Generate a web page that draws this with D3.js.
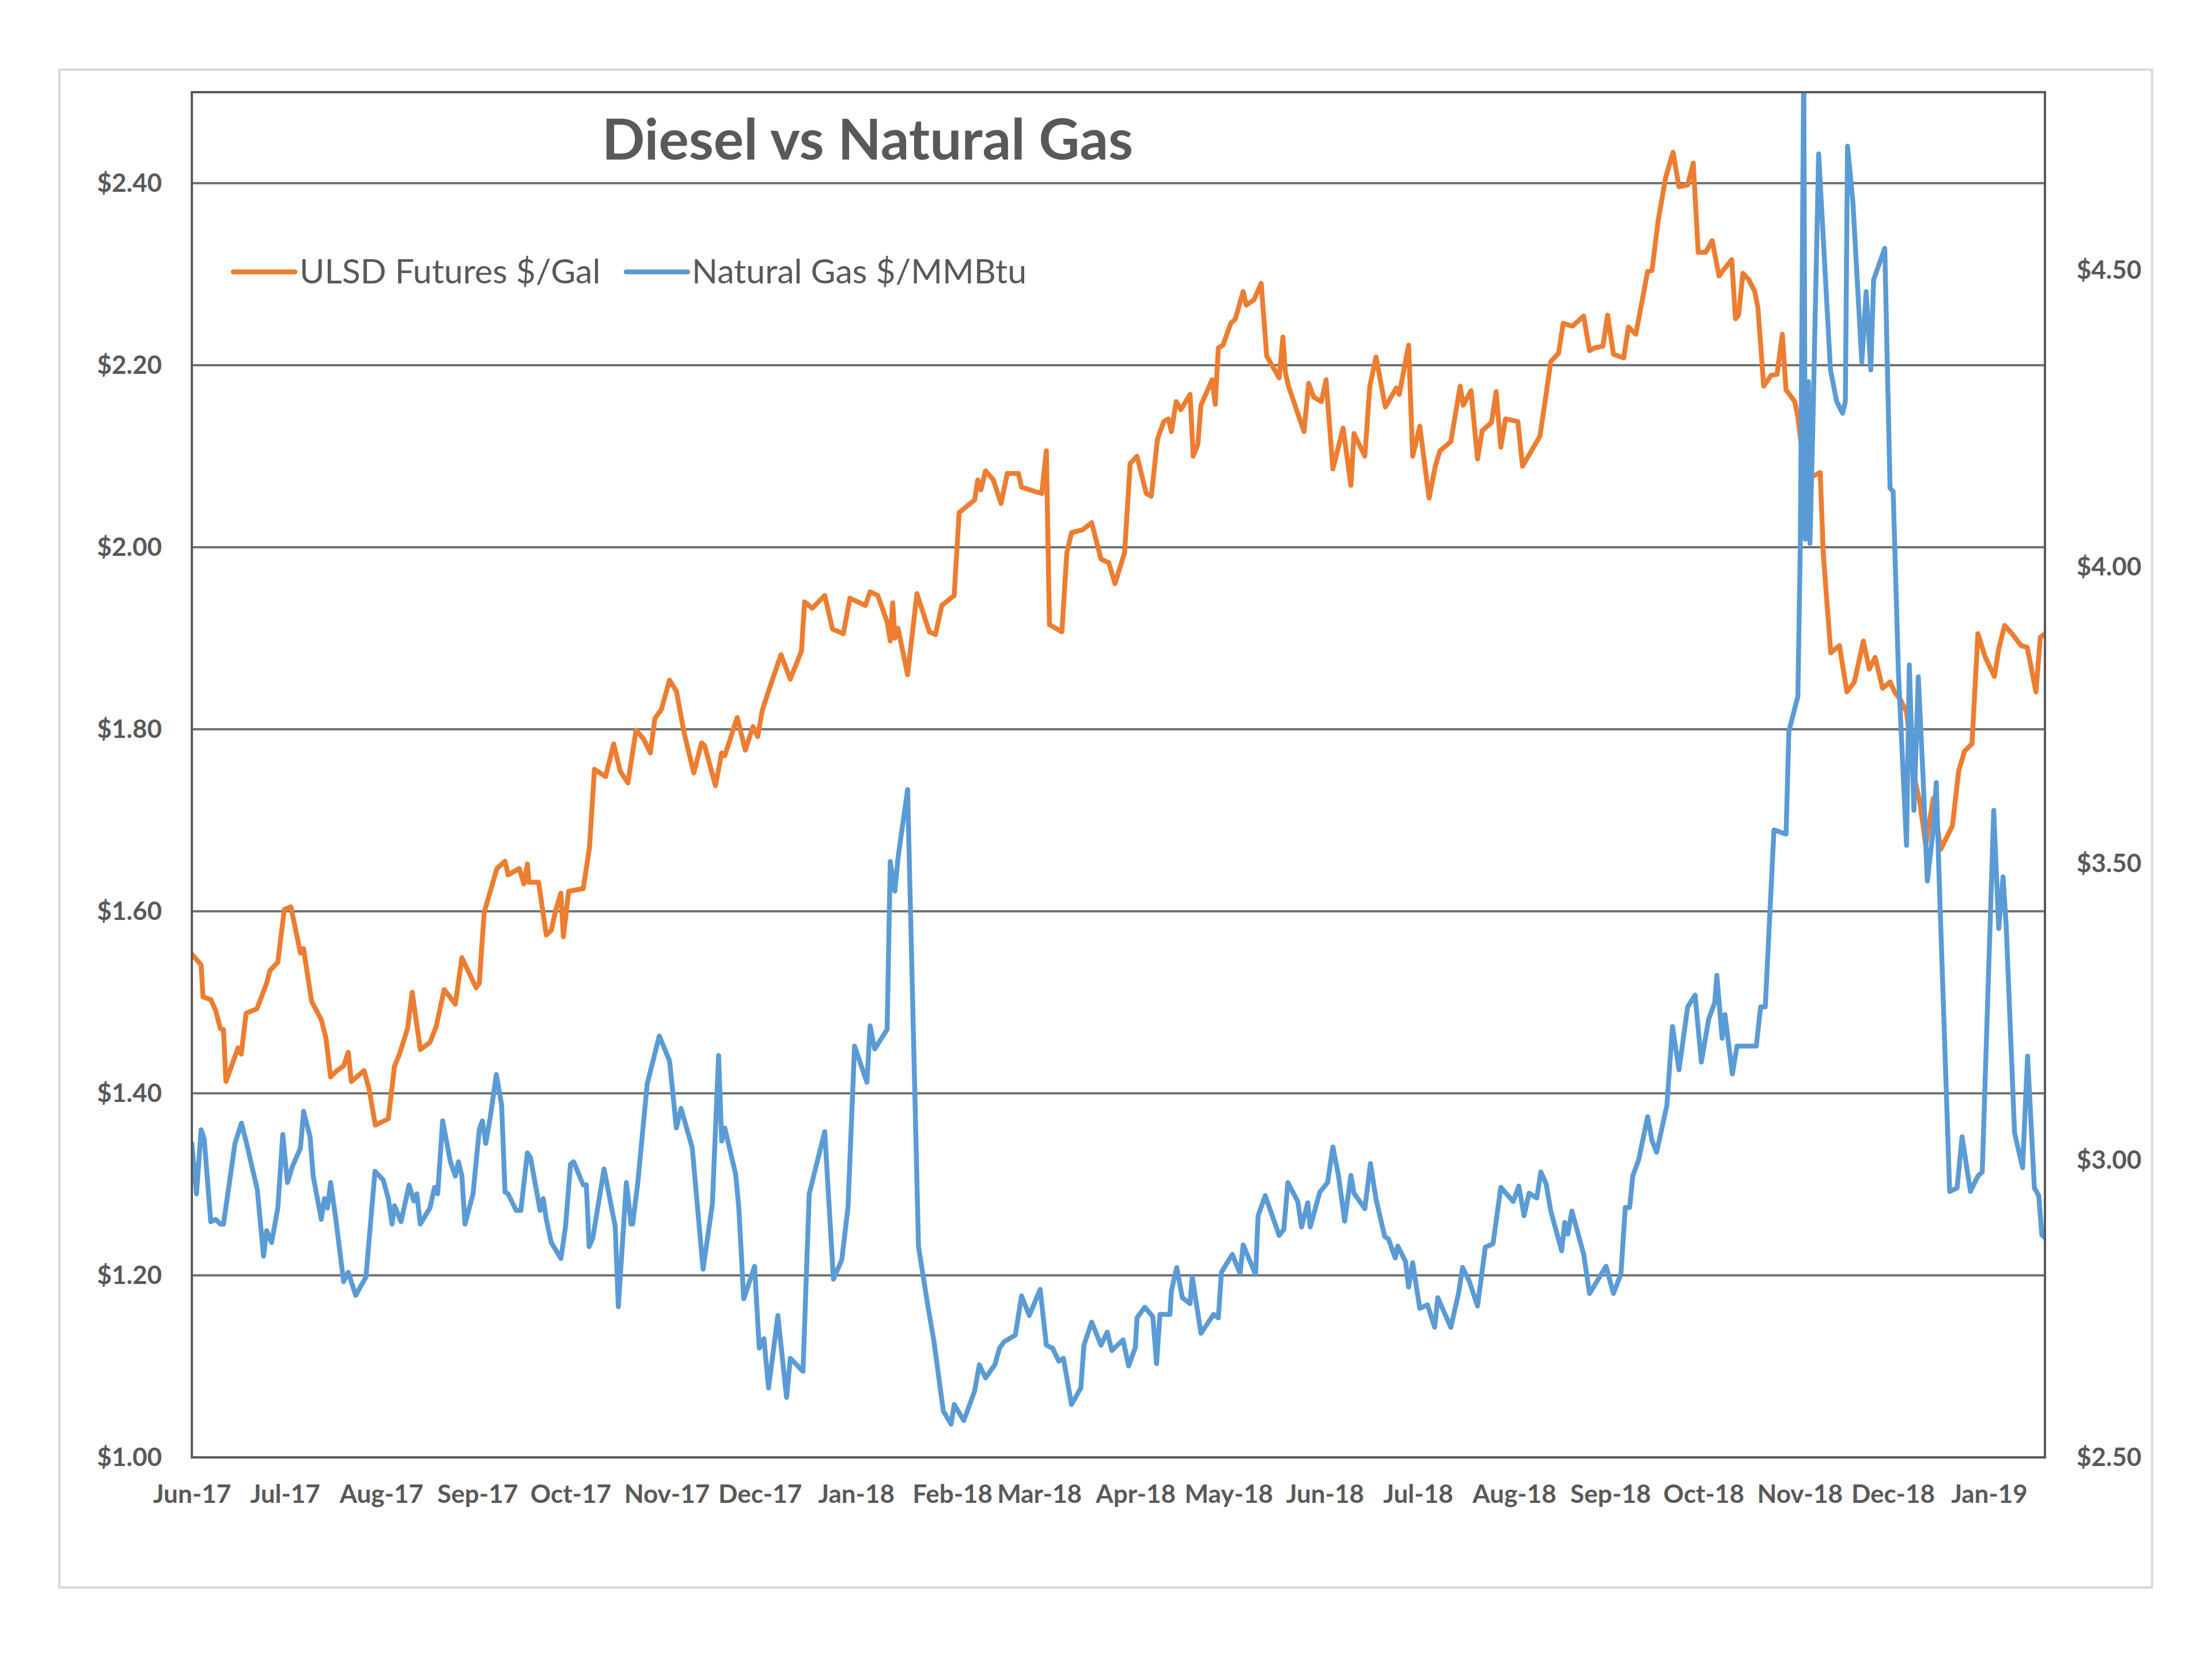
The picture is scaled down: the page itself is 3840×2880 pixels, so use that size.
<!DOCTYPE html>
<html><head><meta charset="utf-8">
<script src="https://cdn.jsdelivr.net/npm/d3@7"></script>
<style>
html,body{margin:0;padding:0;background:#fff;}
svg{display:block;}
text{font-family:Lato,"Open Sans",sans-serif;}
</style></head><body>
<svg id="chart" width="3840" height="2880"></svg>
<script>
// ---------- data ----------
const chartTitle = "Diesel vs Natural Gas";
const seriesNames = ["ULSD Futures $/Gal", "Natural Gas $/MMBtu"];
const seriesColors = ["#ED7D31", "#5B9BD5"];
const startDate = "2017-06-01";
const endDate = "2019-01-19";
const monthTicks = ["2017-06-01","2017-07-01","2017-08-01","2017-09-01","2017-10-01","2017-11-01","2017-12-01",
  "2018-01-01","2018-02-01","2018-03-01","2018-04-01","2018-05-01","2018-06-01","2018-07-01","2018-08-01",
  "2018-09-01","2018-10-01","2018-11-01","2018-12-01","2019-01-01"];
const leftTicks = [1.0, 1.2, 1.4, 1.6, 1.8, 2.0, 2.2, 2.4];
const rightTicks = [2.5, 3.0, 3.5, 4.0, 4.5];
const leftDomain = [1.0, 2.5];
const rightDomain = [2.5, 4.8];

// ULSD futures ($/gal): days after start date, price
const ulsdDays = [0,3,3.6,6.1,7.7,9.2,10.2,11,14.9,15.9,17.5,21,24.1,25.2,27.7,29.8,31.9,35,36,38.6,41.7,43.2,44.7,46.8,48.9,50.4,51.4,55.5,57.1,59.1,63.3,65.3,66.9,69.5,71,73.6,76.7,78.7,81.3,84.9,87,91.6,92.6,94.2,98.3,100.9,101.9,105.5,107,108.1,108.6,111.7,114.2,115.8,117.3,118.9,119.7,121.4,126.1,128.1,129.7,133.3,135.9,138,140.5,143.1,145.6,147.7,149.2,151.3,153.9,156.1,158.6,161.7,164.2,165.2,168.7,170.7,171.7,175.7,178.3,180.8,182.3,183.8,185.8,189.8,192.8,196.4,197.4,199.9,203.9,206.4,209.9,212,217,218.5,221,224,225,225.8,226.5,227.5,230.6,233.6,237.6,239.6,241.6,245.6,247.2,252.2,253.2,254.2,255.7,258.2,260.7,262.7,266.3,267.3,273.8,275.3,276.3,280.3,281.9,283.4,286.9,289.9,292.9,295.4,297.4,300.5,302.3,304.5,307.5,309.1,311.1,313.1,314.6,315.6,317.1,318.6,321.6,322.6,324.1,325.1,328.7,329.7,330.7,332.2,334.7,336.2,338.7,339.7,342.2,344.5,346.3,349.3,350.3,351.5,352.3,353.3,358.3,359.8,361.4,363.9,365.4,367.6,370.9,373.4,374.4,377.9,379.5,381.5,384.5,388,389,392,393.3,395.6,398.6,400.6,402.1,405.6,408.6,409.6,412.1,414.2,415.7,418.7,420.2,421.7,423.2,427.2,428.7,434.3,436.3,437.8,440.3,441.8,444.8,448.4,450.3,451.9,454.6,456.1,458,461.3,462.8,465.2,469,470.4,472.4,474.8,477.2,479.1,481.9,483.7,485.3,487.7,489.8,492,493.5,496.1,497.3,498.3,499.7,501.6,503.5,504.5,506.4,508.8,510.7,512.4,513.6,516.4,517.4,519.8,522.2,524.6,525.6,528,530.8,533.2,535.6,538.5,540.4,542.3,544.7,547.1,548.6,550.5,552.4,555.3,556.7,558.6,561,563.4,567.2,569.2,571.1,573.5,575.4,577.8,580.7,582.1,584,586.4,589.3,591.3,594.1,595.5,597];
const ulsdPrice = [1.553,1.541,1.506,1.503,1.491,1.471,1.470,1.413,1.450,1.443,1.488,1.493,1.521,1.535,1.544,1.602,1.605,1.554,1.559,1.501,1.481,1.461,1.418,1.425,1.430,1.445,1.413,1.425,1.405,1.365,1.372,1.430,1.443,1.471,1.511,1.448,1.456,1.473,1.514,1.498,1.549,1.516,1.521,1.599,1.647,1.655,1.640,1.647,1.630,1.652,1.632,1.632,1.574,1.579,1.602,1.620,1.572,1.622,1.625,1.670,1.756,1.748,1.784,1.754,1.741,1.799,1.789,1.774,1.812,1.822,1.854,1.842,1.796,1.752,1.785,1.782,1.738,1.774,1.771,1.813,1.777,1.803,1.792,1.821,1.842,1.882,1.855,1.886,1.940,1.933,1.947,1.910,1.905,1.944,1.936,1.951,1.947,1.918,1.897,1.939,1.900,1.911,1.860,1.949,1.907,1.904,1.936,1.947,2.038,2.052,2.074,2.063,2.084,2.074,2.048,2.081,2.081,2.066,2.059,2.106,1.915,1.907,1.994,2.016,2.019,2.027,1.987,1.983,1.960,1.994,2.092,2.100,2.059,2.056,2.119,2.138,2.141,2.127,2.160,2.151,2.168,2.100,2.113,2.156,2.184,2.157,2.219,2.222,2.246,2.251,2.281,2.266,2.272,2.290,2.210,2.192,2.186,2.231,2.192,2.177,2.127,2.180,2.165,2.160,2.184,2.086,2.131,2.068,2.125,2.100,2.177,2.209,2.154,2.175,2.168,2.222,2.100,2.133,2.054,2.089,2.106,2.116,2.177,2.156,2.172,2.097,2.128,2.137,2.171,2.110,2.141,2.138,2.089,2.122,2.168,2.204,2.213,2.246,2.243,2.254,2.216,2.219,2.221,2.255,2.212,2.208,2.242,2.234,2.303,2.304,2.359,2.406,2.434,2.396,2.398,2.422,2.324,2.324,2.337,2.298,2.305,2.316,2.251,2.255,2.301,2.294,2.281,2.264,2.177,2.189,2.190,2.234,2.173,2.160,2.143,2.078,2.078,2.082,1.992,1.884,1.892,1.841,1.852,1.897,1.866,1.879,1.845,1.852,1.841,1.832,1.819,1.741,1.720,1.672,1.724,1.668,1.694,1.754,1.776,1.784,1.905,1.879,1.858,1.888,1.914,1.905,1.892,1.890,1.841,1.901,1.905];

// Natural gas ($/MMBtu): days after start date, price
const gasDays = [0,1.5,3,4,6.1,7.7,9.2,10.2,13.9,16,17.5,21.1,23.1,24.1,25.7,27.7,29.3,30.8,32.4,35,36,38.1,39.1,41.7,42.7,43.7,44.7,46.3,48.9,50.4,52.8,56.1,59,61.7,63.3,64.5,65.3,67.4,70,71.5,72.5,73.6,76.7,78.2,79.2,80.8,83.3,84.9,85.9,87,88,90.6,92.6,93.6,94.7,96.2,98.1,99.8,100.9,101.9,104.5,106,108.1,109.1,112.2,113.2,114.2,115.8,118.9,120.4,122,123,126.1,127.1,128,129.2,132.8,136.4,137.4,140,141.5,142,143.6,146.7,150.6,153.9,156.1,157.6,161.2,164.7,167.7,169.7,170.7,171.7,175.2,176.2,177.8,181.3,182.8,184.3,185.8,188.8,191.6,192.8,196.9,198.9,203.9,206.7,209.4,211.4,213.5,217.5,218.5,220,224,225,226.5,227.5,230.6,234.1,237.1,239.1,242.1,244.6,245.6,248.7,252.2,253.7,255.7,258.7,260.2,261.7,265.3,267.3,269.8,273.3,275.3,277.3,279.3,280.8,283.4,286.4,287.4,289.9,292.9,294.9,296.4,300,301.8,304,304.5,307,309.6,310.8,311.9,315.1,315.6,317.3,319.1,321.6,322.3,325.1,329.2,330.7,331.7,335.2,337.7,338.7,342.7,343.5,345.8,350.3,351.8,353.1,356.3,357.5,359.5,360.3,363.4,365.9,367.6,369.4,371.4,373.4,374.4,377.9,379.7,381.5,384.3,385.5,387.7,388.5,391,392,393.3,395.6,398.1,400.4,401.4,405.6,408.1,409.4,411.6,414.2,416.7,419.2,421.7,425.7,427.5,429.2,430.8,433.3,434.6,436.3,437.8,441.3,442.3,443.3,444.6,448.4,450.3,455.6,458,460.4,461.8,463.2,464.2,466.1,469,470.4,471.9,475.2,477,479.1,481.9,484.3,486.3,488.7,490.6,491.3,493,493.9,496.3,497.8,500.2,504,505.4,506.9,509.7,513.6,514.5,517.4,518.2,519.3,519.8,520.8,521.3,522.2,524.1,527.9,529.9,531.8,532.7,533.4,535.1,538,539.4,540.9,541.8,545.4,547.1,548.1,549.8,552.4,553.3,554.8,556.2,557.7,559.1,561,562,562.9,566.3,568.7,570.3,573,575.4,576.8,580.5,582.1,583.5,584.5,587.2,589.8,591.4,593.6,595,596,597];
const gasPrice = [3.029,2.944,3.052,3.036,2.897,2.901,2.893,2.893,3.029,3.063,3.032,2.951,2.839,2.882,2.862,2.920,3.044,2.963,2.990,3.021,3.083,3.040,2.974,2.901,2.936,2.920,2.963,2.905,2.796,2.812,2.773,2.804,2.982,2.967,2.936,2.893,2.924,2.897,2.959,2.932,2.944,2.893,2.920,2.955,2.944,3.067,2.998,2.974,2.998,2.974,2.893,2.944,3.052,3.067,3.029,3.075,3.145,3.094,2.947,2.944,2.916,2.916,3.013,3.005,2.916,2.936,2.901,2.862,2.835,2.889,2.994,2.998,2.959,2.959,2.855,2.870,2.986,2.889,2.754,2.963,2.893,2.893,2.959,3.129,3.210,3.168,3.055,3.088,3.022,2.817,2.927,3.177,3.033,3.055,2.977,2.922,2.767,2.822,2.684,2.700,2.617,2.739,2.601,2.667,2.645,2.944,3.049,2.800,2.833,2.922,3.193,3.132,3.227,3.188,3.221,3.504,3.454,3.510,3.625,2.855,2.756,2.695,2.578,2.556,2.589,2.562,2.612,2.656,2.634,2.656,2.684,2.695,2.706,2.772,2.739,2.783,2.689,2.684,2.662,2.667,2.589,2.617,2.689,2.728,2.689,2.711,2.680,2.698,2.654,2.686,2.735,2.753,2.737,2.658,2.741,2.741,2.781,2.820,2.769,2.759,2.804,2.709,2.741,2.735,2.812,2.842,2.810,2.858,2.808,2.907,2.941,2.874,2.884,2.963,2.931,2.888,2.929,2.888,2.947,2.963,3.023,2.975,2.898,2.975,2.945,2.919,2.995,2.935,2.872,2.868,2.836,2.856,2.830,2.787,2.828,2.751,2.757,2.719,2.769,2.719,2.777,2.820,2.796,2.755,2.854,2.860,2.955,2.931,2.957,2.907,2.945,2.937,2.981,2.961,2.915,2.848,2.896,2.876,2.915,2.842,2.776,2.822,2.776,2.809,2.921,2.921,2.974,3.001,3.074,3.034,3.014,3.093,3.226,3.153,3.259,3.279,3.166,3.239,3.266,3.312,3.206,3.246,3.146,3.193,3.193,3.193,3.259,3.259,3.557,3.550,3.723,3.782,4.040,4.850,4.047,4.312,4.040,4.232,4.696,4.332,4.279,4.259,4.279,4.709,4.617,4.345,4.464,4.332,4.484,4.537,4.133,4.127,3.822,3.531,3.835,3.590,3.815,3.650,3.471,3.557,3.637,3.478,2.948,2.954,3.040,2.948,2.974,2.981,3.590,3.391,3.478,3.398,3.047,2.988,3.176,2.954,2.941,2.875,2.870];

// ---------- layout ----------
const W = 3840, H = 2880;
const plot = {left: 333, right: 3550, top: 160, bottom: 2530};
const frame = {left: 103, top: 121, right: 3736, bottom: 2756};
const textColor = "#595959";

const parse = d3.timeParse("%Y-%m-%d");
const t0 = parse(startDate);
const toDate = d => new Date(t0.getTime() + d * 864e5);

const x = d3.scaleTime().domain([t0, parse(endDate)]).range([plot.left, plot.right]);
const yL = d3.scaleLinear().domain(leftDomain).range([plot.bottom, plot.top]);
const yR = d3.scaleLinear().domain(rightDomain).range([plot.bottom, plot.top]);

const svg = d3.select("#chart");
svg.append("rect").attr("width", W).attr("height", H).attr("fill", "#fff");

// outer chart frame
svg.append("rect")
  .attr("x", frame.left).attr("y", frame.top)
  .attr("width", frame.right - frame.left).attr("height", frame.bottom - frame.top)
  .attr("fill", "#fff").attr("stroke", "#d9d9d9").attr("stroke-width", 4);

// gridlines
svg.append("g")
  .selectAll("line").data(leftTicks.filter(v => v > leftDomain[0])).join("line")
  .attr("x1", plot.left).attr("x2", plot.right)
  .attr("y1", d => yL(d)).attr("y2", d => yL(d))
  .attr("stroke", "#737373").attr("stroke-width", 4);

// series
svg.append("clipPath").attr("id", "plotclip").append("rect")
  .attr("x", plot.left).attr("y", plot.top)
  .attr("width", plot.right - plot.left).attr("height", plot.bottom - plot.top);

const ulsd = ulsdDays.map((d, i) => ({date: toDate(d), v: ulsdPrice[i]}));
const gas = gasDays.map((d, i) => ({date: toDate(d), v: gasPrice[i]}));

const lineL = d3.line().x(d => x(d.date)).y(d => yL(d.v));
const lineR = d3.line().x(d => x(d.date)).y(d => yR(d.v));

const lines = svg.append("g").attr("clip-path", "url(#plotclip)");
lines.append("path").datum(ulsd).attr("d", lineL)
  .attr("fill", "none").attr("stroke", seriesColors[0]).attr("stroke-width", 8.5)
  .attr("stroke-linejoin", "round").attr("stroke-linecap", "round");
lines.append("path").datum(gas).attr("d", lineR)
  .attr("fill", "none").attr("stroke", seriesColors[1]).attr("stroke-width", 8.5)
  .attr("stroke-linejoin", "round").attr("stroke-linecap", "round");

// plot border
svg.append("rect")
  .attr("x", plot.left).attr("y", plot.top)
  .attr("width", plot.right - plot.left).attr("height", plot.bottom - plot.top)
  .attr("fill", "none").attr("stroke", "#595959").attr("stroke-width", 4);

// axes
const fmt = d3.format("$.2f");
const axisL = d3.axisLeft(yL).tickValues(leftTicks).tickFormat(fmt).tickSize(0).tickPadding(52);
const axisR = d3.axisRight(yR).tickValues(rightTicks).tickFormat(fmt).tickSize(0).tickPadding(55);
const axisB = d3.axisBottom(x).tickValues(monthTicks.map(parse)).tickFormat(d3.timeFormat("%b-%y")).tickSize(0).tickPadding(48);

function styleAxis(g) {
  g.select(".domain").remove();
  g.selectAll("text").attr("fill", textColor).attr("font-size", 44).attr("font-weight", 700)
    .attr("font-family", "Lato, 'Open Sans', sans-serif");
}
svg.append("g").attr("transform", `translate(${plot.left},0)`).call(axisL).call(styleAxis);
svg.append("g").attr("transform", `translate(${plot.right},0)`).call(axisR).call(styleAxis);
svg.append("g").attr("transform", `translate(0,${plot.bottom})`).call(axisB).call(styleAxis);

// title
svg.append("text").attr("x", 1506).attr("y", 277).attr("text-anchor", "middle")
  .attr("font-size", 98).attr("font-weight", 700).attr("fill", textColor)
  .text(chartTitle);

// legend
const legendItems = [
  {name: seriesNames[0], color: seriesColors[0], x1: 405, x2: 512, tx: 520},
  {name: seriesNames[1], color: seriesColors[1], x1: 1087, x2: 1194, tx: 1201}
];
const lg = svg.append("g");
legendItems.forEach(it => {
  lg.append("line").attr("x1", it.x1).attr("x2", it.x2).attr("y1", 472).attr("y2", 472)
    .attr("stroke", it.color).attr("stroke-width", 8.5).attr("stroke-linecap", "round");
  lg.append("text").attr("x", it.tx).attr("y", 492).attr("font-size", 59)
    .attr("fill", textColor).attr("font-weight", 400).text(it.name);
});
</script>
</body></html>
